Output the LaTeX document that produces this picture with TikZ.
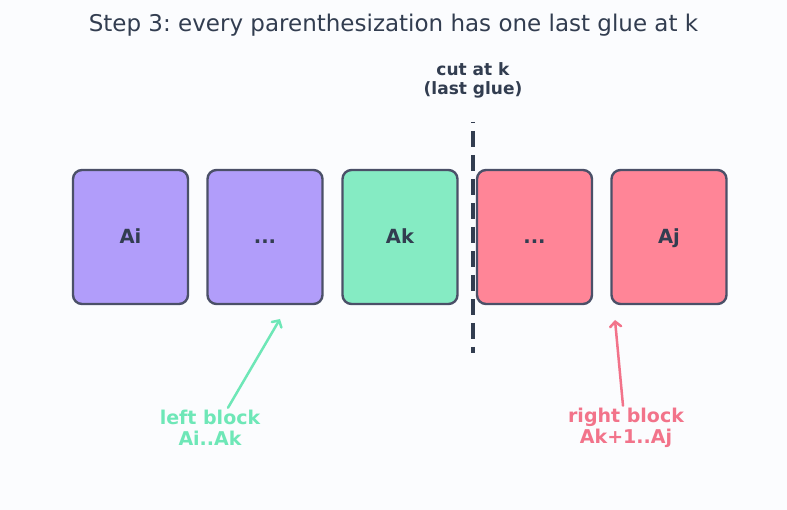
\documentclass[tikz,border=0pt]{standalone}
\usepackage{fontspec}
\setmainfont{DejaVu Sans}
\usetikzlibrary{arrows.meta}
\definecolor{ink}{HTML}{323D50}
\definecolor{edge}{HTML}{4B5068}
\definecolor{bgcol}{HTML}{FBFCFE}
\definecolor{purp}{HTML}{B19DFA}
\definecolor{mint}{HTML}{85EBC3}
\definecolor{rose}{HTML}{FF8597}
\definecolor{mintlbl}{HTML}{6EE7B7}
\definecolor{roselbl}{HTML}{F2738A}
\newcommand{\gapdots}{.{}.{}.}
\frenchspacing

\begin{document}
\begin{tikzpicture}[x=1pt, y=-1pt, >={Straight Barb[length=5pt, width=11pt, line cap=round]},
	blockbox/.style={draw=edge, line width=2.4pt, rounded corners=9pt, minimum width=115pt, minimum height=134pt, inner sep=0pt, text height=12.5pt, text depth=0pt, font=\fontsize{19.5}{22}\selectfont\bfseries, text=ink},
	blocklbl/.style={align=center, font=\fontsize{19}{21}\selectfont\bfseries}]
	\useasboundingbox[fill=bgcol] (0,0) rectangle (787,510);
	\node[font=\fontsize{23}{26}\selectfont, text=ink] (title) at (393.5,25) {Step 3: every parenthesization has one last glue at k};
	% the chain of matrices
	\foreach \n/\x/\c/\t in {ai/130.5/purp/Ai, dl/265/purp/\gapdots, ak/400/mint/Ak, dr/534.5/rose/\gapdots, aj/669/rose/Aj} {
		\node[blockbox, fill=\c] (\n) at (\x,237) {\t};
	}
	% the cut
	\coordinate (cuttop) at (473,122);
	\coordinate (cutbot) at (473,353);
	\draw[ink, line width=4pt, dash pattern=on 16pt off 8pt, dash phase=15pt] (cuttop) -- (cutbot);
	\node[align=center, text=ink, font=\fontsize{17}{19}\selectfont\bfseries] (cutlbl) at (473,80) {cut at k\\(last glue)};
	% the two blocks
	\node[blocklbl, text=mintlbl] (left) at (210,428) {left block\\Ai..Ak};
	\node[blocklbl, text=roselbl] (right) at (626,428) {right block\\Ak+1..Aj};
	\coordinate (ltip) at (280,319);
	\coordinate (rtip) at (615,320);
	\draw[->, mintlbl, line width=2.5pt, line cap=round] ([xshift=18pt, yshift=-1pt]left.north) -- (ltip);
	\draw[->, roselbl, line width=2.5pt, line cap=round] ([yshift=-1pt]right.north -| 623,0) -- (rtip);
\end{tikzpicture}
\end{document}
